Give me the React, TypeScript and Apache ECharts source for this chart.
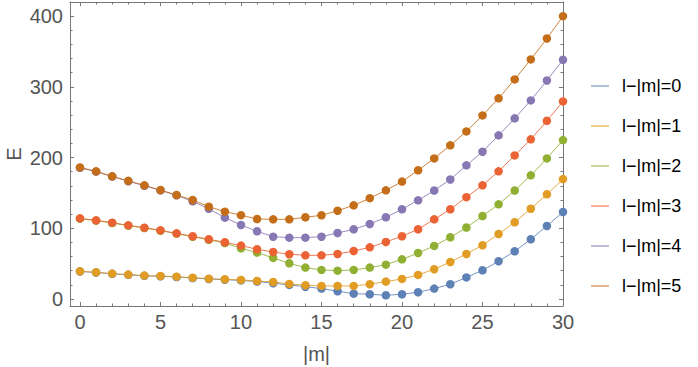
import React, { useEffect, useRef } from "react";
import * as echarts from "echarts";

const mValues = Array.from({ length: 31 }, (_, i) => i);
const seriesNames = ["l\u2212|m|=0", "l\u2212|m|=1", "l\u2212|m|=2", "l\u2212|m|=3", "l\u2212|m|=4", "l\u2212|m|=5"];
const colors = ["#5E81B5", "#E19C24", "#8FB032", "#EB6235", "#8778B3", "#C56E1A"];

const e0 = [38.8, 37.4, 35.5, 34.1, 32.7, 32, 31, 29.6, 28.2, 27.2, 26.2, 24.6, 22.2, 19.8, 17.3, 14.6, 10.9, 7.5, 6.6, 5.2, 6.6, 9.5, 14.6, 20.8, 30.4, 40.5, 53.3, 67.4, 84.4, 103.2, 123];
const e1 = [39.1, 37.7, 35.8, 34.4, 33, 32.5, 31.5, 30.1, 28.7, 27.8, 26.9, 25.4, 24, 21.2, 19.4, 18.4, 18.4, 18.4, 20.8, 24.5, 28.3, 34, 42, 52.3, 63.6, 75.9, 91.9, 108.4, 127.6, 148, 169.5];
const e2 = [113.5, 110.7, 107.4, 103.6, 100.3, 96.5, 92.3, 88, 83.7, 79, 71.6, 65.5, 58, 50.4, 44.3, 41, 40, 41, 44.3, 48.5, 56, 65, 75, 87.2, 101, 117.3, 133.8, 153.3, 174.8, 198.8, 224.7];
const e3 = [114, 111.2, 107.9, 104.1, 100.8, 97, 92.8, 88.6, 84.4, 80.1, 75.4, 70.2, 66.4, 63.2, 61.7, 61.7, 63.6, 67.8, 73, 80.6, 88.6, 98.5, 112.6, 126.8, 144, 160.7, 180.5, 203, 225.7, 252, 279.4];
const e4 = [185.5, 180, 173, 166.5, 160, 153.5, 146.5, 138, 127.6, 115, 104.6, 95.7, 88, 86.7, 86.7, 88, 93.3, 98.5, 106, 115.5, 126.8, 139.5, 153.3, 169, 189, 208.2, 231.4, 255.4, 280.8, 309, 338.3];
const e5 = [186, 180.5, 173.5, 167, 160.7, 154, 147, 140, 130.5, 123.4, 118.5, 113, 112.6, 112.6, 115.5, 118.3, 124.8, 132.4, 142.5, 153.6, 166, 182, 198.8, 217.2, 237, 259.6, 283.7, 310.5, 338.8, 368.4, 400];
const energies = [e0, e1, e2, e3, e4, e5];

const xMajorTicks = [0, 5, 10, 15, 20, 25, 30];
const xMinorTicks = mValues.filter((v) => v % 5 !== 0);
const yMajorTicks = [0, 100, 200, 300, 400];
const yMinorTicks = [20, 40, 60, 80, 120, 140, 160, 180, 220, 240, 260, 280, 320, 340, 360, 380];

const X_MIN = -0.62;
const X_MAX = 30;
const Y_MIN = -10;
const Y_MAX = 420;

export default function App() {
  const ref = useRef<HTMLDivElement>(null);
  useEffect(() => {
    if (!ref.current) return;
    const chart = echarts.init(ref.current, null, { renderer: "svg" });
    const frameColor = "#777";
    const labelColor = "#555";
    const font = "Liberation Sans, Arial, sans-serif";

    const xAxisBase = (opts: any) => ({
      type: "value",
      min: X_MIN,
      max: X_MAX,
      gridIndex: 0,
      splitLine: { show: false },
      ...opts,
    });
    const yAxisBase = (opts: any) => ({
      type: "value",
      min: Y_MIN,
      max: Y_MAX,
      gridIndex: 0,
      splitLine: { show: false },
      ...opts,
    });

    const option: any = {
      animation: false,
      grid: { left: 70, top: 2, right: 135, bottom: 61, containLabel: false, outerBoundsMode: "none" },
      legend: {
        orient: "vertical",
        left: 591,
        top: 76,
        padding: 0,
        itemWidth: 18,
        itemHeight: 1,
        itemGap: 20,
        icon: "rect",
        data: seriesNames.map((n) => ({ name: n, icon: "rect" })),
        textStyle: {
          color: "#000",
          fontSize: 18,
          fontFamily: font,
          lineHeight: 20,
          padding: [0, 0, 0, 8],
        },
      },
      xAxis: [
        xAxisBase({
          position: "bottom",
          name: "|m|",
          nameLocation: "middle",
          nameGap: 38,
          nameTextStyle: { color: labelColor, fontSize: 20, fontFamily: font },
          axisLine: { show: true, onZero: false, lineStyle: { color: frameColor, width: 1 } },
          axisTick: { show: true, inside: true, length: 4, customValues: xMajorTicks, lineStyle: { color: frameColor } },
          axisLabel: { show: true, customValues: xMajorTicks, color: labelColor, fontSize: 20, fontFamily: font, margin: 6 },
        }),
        xAxisBase({
          position: "bottom",
          axisLine: { show: false, onZero: false },
          axisTick: { show: true, inside: true, length: 2.5, customValues: xMinorTicks, lineStyle: { color: frameColor } },
          axisLabel: { show: false },
        }),
        xAxisBase({
          position: "top",
          axisLine: { show: true, onZero: false, lineStyle: { color: frameColor, width: 1 } },
          axisTick: { show: true, inside: true, length: 4, customValues: xMajorTicks, lineStyle: { color: frameColor } },
          axisLabel: { show: false },
        }),
        xAxisBase({
          position: "top",
          axisLine: { show: false, onZero: false },
          axisTick: { show: true, inside: true, length: 2.5, customValues: xMinorTicks, lineStyle: { color: frameColor } },
          axisLabel: { show: false },
        }),
      ],
      yAxis: [
        yAxisBase({
          position: "left",
          name: "E",
          nameLocation: "middle",
          nameGap: 48,
          nameMoveOverlap: false,
          nameRotate: 90,
          nameTextStyle: { color: labelColor, fontSize: 20, fontFamily: font, lineHeight: 16, padding: 0 },
          axisLine: { show: true, onZero: false, lineStyle: { color: frameColor, width: 1 } },
          axisTick: { show: true, inside: true, length: 4, customValues: yMajorTicks, lineStyle: { color: frameColor } },
          axisLabel: { show: true, customValues: yMajorTicks, color: labelColor, fontSize: 20, fontFamily: font, margin: 7 },
        }),
        yAxisBase({
          position: "left",
          axisLine: { show: false, onZero: false },
          axisTick: { show: true, inside: true, length: 2.5, customValues: yMinorTicks, lineStyle: { color: frameColor } },
          axisLabel: { show: false },
        }),
        yAxisBase({
          position: "right",
          axisLine: { show: true, onZero: false, lineStyle: { color: frameColor, width: 1 } },
          axisTick: { show: true, inside: true, length: 4, customValues: yMajorTicks, lineStyle: { color: frameColor } },
          axisLabel: { show: false },
        }),
        yAxisBase({
          position: "right",
          axisLine: { show: false, onZero: false },
          axisTick: { show: true, inside: true, length: 2.5, customValues: yMinorTicks, lineStyle: { color: frameColor } },
          axisLabel: { show: false },
        }),
      ],
      series: energies.map((vals, i) => ({
        name: seriesNames[i],
        type: "line",
        xAxisIndex: 0,
        yAxisIndex: 0,
        data: mValues.map((m, j) => [m, vals[j]]),
        symbol: "circle",
        symbolSize: 8.5,
        showSymbol: true,
        clip: true,
        color: colors[i],
        itemStyle: { color: colors[i] },
        lineStyle: { color: colors[i], width: 1, opacity: 0.85 },
        emphasis: { disabled: true },
      })),
    };
    chart.setOption(option);
    return () => chart.dispose();
  }, []);
  return (
    <div
      ref={ref}
      style={{ position: "fixed", left: 0, top: 0, width: 698, height: 367, background: "#fff" }}
    />
  );
}
